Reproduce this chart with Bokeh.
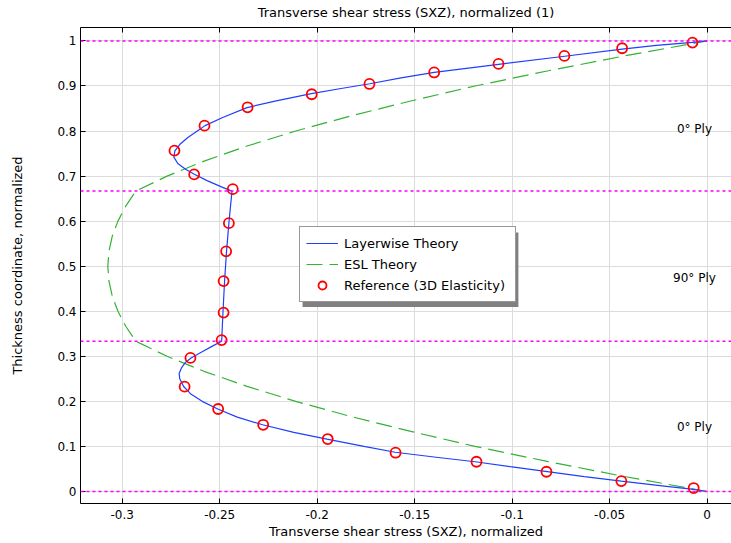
from bokeh.plotting import figure
from bokeh.models import (Range1d, FixedTicker, LinearAxis, Legend, LegendItem, Span,
                          BoxAnnotation, CustomLabelingPolicy)
from bokeh.core.properties import value
from bokeh.embed import file_html
from bokeh.resources import INLINE

FONT = "DejaVu Sans"

# ---- data ----
# Layerwise theory (blue line)
lw_x = [0.0, -0.008, -0.022, -0.044, -0.063, -0.082, -0.101, -0.119, -0.139, -0.160,
        -0.176, -0.195, -0.212, -0.228, -0.241, -0.251, -0.259, -0.265, -0.2685, -0.2705,
        -0.2708, -0.2695, -0.2675, -0.2645, -0.259, -0.254, -0.249,
        -0.2483, -0.2475, -0.2465, -0.2452, -0.2437,
        -0.2485, -0.2565, -0.2630, -0.2675, -0.2715, -0.2735, -0.2730, -0.2705, -0.2665,
        -0.2615, -0.2575, -0.2485, -0.2360, -0.2210, -0.2030, -0.1870, -0.1730, -0.1570,
        -0.1400, -0.1070, -0.0730, -0.0436, -0.0260, -0.0075, 0.0]
lw_y = [0.0, 0.005, 0.012, 0.023, 0.033, 0.044, 0.055, 0.066, 0.076, 0.087,
        0.100, 0.116, 0.131, 0.148, 0.165, 0.183, 0.200, 0.217, 0.233, 0.250,
        0.262, 0.275, 0.287, 0.297, 0.310, 0.322, 0.3333,
        0.400, 0.467, 0.533, 0.600, 0.6667,
        0.675, 0.690, 0.704, 0.715, 0.728, 0.742, 0.756, 0.770, 0.785,
        0.800, 0.812, 0.830, 0.852, 0.867, 0.883, 0.895, 0.905, 0.918,
        0.930, 0.948, 0.966, 0.982, 0.990, 0.997, 1.0]

# ESL theory (green dashed)
esl_x = [0.0, -0.0425, -0.082, -0.119, -0.152, -0.183, -0.211, -0.236, -0.258, -0.277,
         -0.293, -0.2982, -0.3022, -0.3051, -0.3068, -0.3074, -0.3068, -0.3051, -0.3022, -0.2982,
         -0.293, -0.277, -0.258, -0.236, -0.211, -0.183, -0.152, -0.119, -0.082, -0.0425, 0.0]
esl_y = [0.0, 0.0333, 0.0667, 0.1, 0.1333, 0.1667, 0.2, 0.2333, 0.2667, 0.3,
         0.3333, 0.3667, 0.4, 0.4333, 0.4667, 0.5, 0.5333, 0.5667, 0.6, 0.6333,
         0.6667, 0.7, 0.7333, 0.7667, 0.8, 0.8333, 0.8667, 0.9, 0.9333, 0.9667, 1.0]

# Reference (3D elasticity) points
ref_x = [-0.0069, -0.0440, -0.0824, -0.1183, -0.1598, -0.1946, -0.2277, -0.2508, -0.268,
         -0.265, -0.249, -0.248, -0.248, -0.2467, -0.2453, -0.2433, -0.2631, -0.2732,
         -0.2578, -0.2357, -0.2028, -0.1732, -0.140, -0.107, -0.0732, -0.0436, -0.0075]
ref_y = [0.0076, 0.023, 0.0438, 0.066, 0.086, 0.1164, 0.148, 0.183, 0.2327,
         0.2964, 0.336, 0.397, 0.467, 0.533, 0.5956, 0.671, 0.7038, 0.7564,
         0.812, 0.8527, 0.8816, 0.9045, 0.930, 0.949, 0.9667, 0.9838, 0.9964]

# ply interfaces and labels
ply_bounds = [0.0, 1 / 3, 2 / 3, 1.0]
ply_text = ["0° Ply", "90° Ply", "0° Ply"]
ply_x = [-0.0065, -0.0065, -0.0065]
ply_y = [0.804, 0.473, 0.144]

# ticks
x_ticks = [-0.3, -0.25, -0.2, -0.15, -0.1, -0.05, 0.0]
x_tick_labels = ["-0.3", "-0.25", "-0.2", "-0.15", "-0.1", "-0.05", "0"]
y_ticks = [0.0, 0.1, 0.2, 0.3, 0.4, 0.5, 0.6, 0.7, 0.8, 0.9, 1.0]
y_tick_labels = ["0", "0.1", "0.2", "0.3", "0.4", "0.5", "0.6", "0.7", "0.8", "0.9", "1"]

# ---- figure ----
p = figure(width=731, height=543, output_backend="svg", toolbar_location=None,
           x_range=Range1d(-0.3214, 0.0125), y_range=Range1d(-0.0267, 1.0298),
           min_border_left=80, min_border_right=0, min_border_top=27, min_border_bottom=40)
p.outline_line_color = None
p.background_fill_color = "white"

xt = FixedTicker(ticks=x_ticks)
yt = FixedTicker(ticks=y_ticks)

for g, t in ((p.xgrid[0], xt), (p.ygrid[0], yt)):
    g.ticker = t
    g.grid_line_color = "#dcdcdc"
    g.grid_line_width = 1

def style_axis(ax):
    ax.axis_line_color = "black"
    ax.axis_line_width = 1
    ax.major_tick_in = 5
    ax.major_tick_out = 0
    ax.minor_tick_line_color = None
    ax.major_tick_line_color = "black"
    ax.major_label_text_font = FONT
    ax.major_label_text_font_size = "12px"
    ax.major_label_text_color = "black"
    ax.axis_label_text_font = FONT
    ax.axis_label_text_font_size = "13px"
    ax.axis_label_text_font_style = "normal"
    ax.axis_label_text_color = "black"

xa = p.xaxis[0]
style_axis(xa)
xa.ticker = xt
xa.major_label_overrides = dict(zip(x_ticks, x_tick_labels))
xa.major_label_standoff = 6
xa.axis_label = "Transverse shear stress (SXZ), normalized"
xa.axis_label_standoff = 2

ya = p.yaxis[0]
style_axis(ya)
ya.ticker = yt
ya.major_label_overrides = dict(zip(y_ticks, y_tick_labels))
ya.major_label_standoff = 4
ya.axis_label = "Thickness coordinate, normalized"
ya.axis_label_standoff = 29

top = LinearAxis(ticker=xt)
style_axis(top)
top.major_label_policy = CustomLabelingPolicy(code="return []")
top.major_label_text_font_size = "1px"
top.major_label_standoff = 0
top.axis_label = "Transverse shear stress (SXZ), normalized (1)"
top.axis_label_standoff = 4
p.add_layout(top, "above")

for yb in ply_bounds:
    p.add_layout(Span(location=yb, dimension="width", line_color="#ff00ff",
                      line_width=1.5, line_dash="3 3"))

r_esl = p.line(esl_x, esl_y, line_color="#33b233", line_width=1.2, line_dash="16 7")
r_lw = p.line(lw_x, lw_y, line_color="#1f3fff", line_width=1.2)
r_ref = p.scatter(ref_x, ref_y, marker="circle", size=10, fill_color=None,
                  line_color="#ff0000", line_width=1.8)

p.text(ply_x, ply_y, text=ply_text, text_font=value(FONT), text_font_size="12px",
       text_align="center", text_baseline="middle", text_color="black")

shadow = BoxAnnotation(left=-0.2075, right=-0.0968, top=0.5749, bottom=0.4093,
                       fill_color="#808080", fill_alpha=1.0, line_color=None)
p.add_layout(shadow)

legend = Legend(items=[LegendItem(label="Layerwise Theory", renderers=[r_lw]),
                       LegendItem(label="ESL Theory", renderers=[r_esl]),
                       LegendItem(label="Reference (3D Elasticity)", renderers=[r_ref])],
                location=(219, 201), padding=6, spacing=1, margin=0,
                glyph_width=32, glyph_height=20, label_height=20, label_width=165,
                label_standoff=6, label_text_font=FONT, label_text_font_size="13px",
                label_text_color="black",
                border_line_color="#333333", border_line_width=1.5,
                background_fill_color="white", background_fill_alpha=1.0)
p.add_layout(legend)

open("out.html", "w").write(file_html(p, INLINE))
